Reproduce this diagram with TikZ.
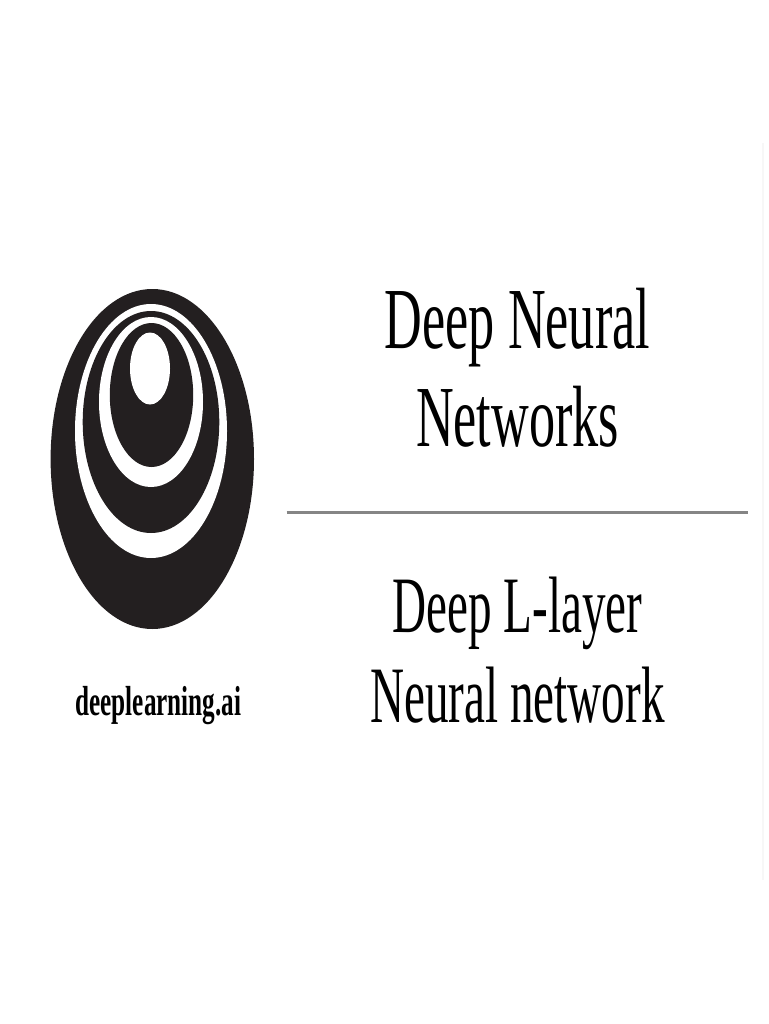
\documentclass[tikz,border=0pt]{standalone}
\usepackage{fontspec}
\setmainfont{Liberation Serif}
\definecolor{logoblack}{HTML}{231F20}
\definecolor{rulegray}{HTML}{858585}
\definecolor{edgegray}{HTML}{F7F7F7}
\tikzset{
  title/.style={inner sep=0pt,anchor=base,text=black},
  logofill/.style={fill=logoblack,draw=none},
  logohole/.style={fill=white,draw=none}
}
\newcommand{\toptxt}[1]{\scalebox{0.6}[1]{\fontsize{87}{87}\selectfont #1}}
\newcommand{\lowtxt}[1]{\scalebox{0.589}[1]{\fontsize{80}{80}\selectfont #1}}
\begin{document}
\begin{tikzpicture}[x=1pt,y=-1pt]
\useasboundingbox (0,0) rectangle (768,1024);
\fill[white] (0,0) rectangle (768,1024);
\fill[edgegray] (762,143) rectangle (764,880);
% logo
\fill[logofill] (152.3,459) ellipse [x radius=101.7,y radius=170];
\fill[logohole] (151,431) ellipse [x radius=76,y radius=127];
\fill[logofill] (151,422) ellipse [x radius=68.3,y radius=111];
\fill[logohole] (151,402) ellipse [x radius=52,y radius=85];
\fill[logofill] (151.5,395) ellipse [x radius=41.7,y radius=72];
\fill[logohole] (150,368.5) ellipse [x radius=20,y radius=36];
% texts
\node[title] (t1) at (517.5,348.5) {\toptxt{Deep Neural}};
\node[title] (t2) at (517.5,446.5) {\toptxt{Networks}};
\node[title] (t3) at (517.5,632) {\lowtxt{Deep L-layer}};
\node[title] (t4) at (517.5,722) {\lowtxt{Neural network}};
\node[title] (brand) at (158.5,715.5) {\scalebox{0.6}[1]{\fontsize{42}{42}\selectfont\bfseries deeplearning.ai}};
% rule
\coordinate (ruleL) at (286.5,512.7);
\coordinate (ruleR) at (747.7,512.7);
\draw[rulegray,line width=2.6pt] (ruleL) -- (ruleR);
\end{tikzpicture}
\end{document}
